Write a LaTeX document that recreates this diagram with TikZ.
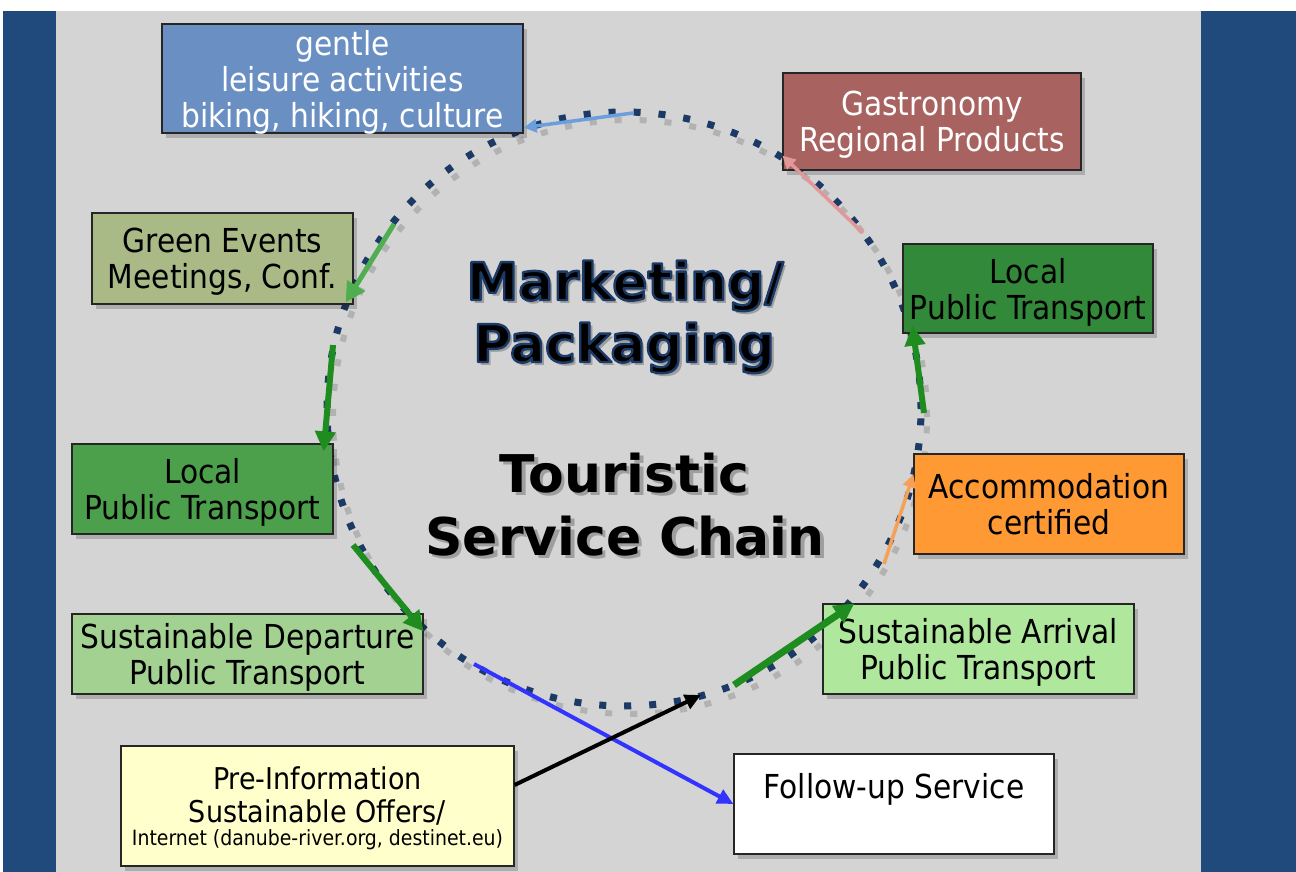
\documentclass[tikz,border=0pt]{standalone}
\usepackage{fontspec}
\setmainfont{DejaVu Sans}
\newfontfamily\boxfont{DejaVu Sans Condensed}
\usetikzlibrary{arrows.meta,shadows}
\definecolor{bandblue}{HTML}{204A7C}
\definecolor{slidegray}{HTML}{D4D4D4}
\definecolor{dotnavy}{HTML}{1B3A66}
\definecolor{titleshade}{HTML}{9E9E9E}
\definecolor{gentleblue}{HTML}{6A8FC3}
\definecolor{gastrored}{HTML}{A8625F}
\definecolor{darkgreen}{HTML}{33893A}
\definecolor{midgreen}{HTML}{4CA04C}
\definecolor{orangebox}{HTML}{FF9933}
\definecolor{arrivalgreen}{HTML}{AFE89D}
\definecolor{departgreen}{HTML}{A3D192}
\definecolor{olivebox}{HTML}{A9BA87}
\definecolor{preyellow}{HTML}{FFFFCC}
\definecolor{arrowgreen}{HTML}{1E8C1E}
\definecolor{eventgreen}{HTML}{4FAE4F}
\definecolor{lightarrow}{HTML}{6A9EDC}
\definecolor{pinkarrow}{HTML}{E29898}
\definecolor{orangearrow}{HTML}{F5A055}
\definecolor{bluearrow}{HTML}{3333FF}
\newcommand\shadedtitle[1]{\makebox[0pt][l]{\kern3.5pt\raisebox{-3.5pt}{\textcolor{titleshade}{#1}}}#1}
\newcommand\glowtitle[1]{\makebox[0pt][l]{\kern3.5pt\raisebox{-3.5pt}{\textcolor{titleshade}{#1}}}\special{pdf:code q 1 j 2 Tr 2.4 w 0.106 0.227 0.4 RG}#1\special{pdf:code Q}}
\tikzset{
	box/.style={draw=black!85, line width=1.2pt, inner sep=0pt, align=center, text depth=0pt,
		font=\boxfont\fontsize{33}{36}\selectfont,
		drop shadow={shadow xshift=4pt, shadow yshift=-5pt, fill=black, opacity=0.18}},
	flow/.style={line width=6pt, -{Triangle[length=20pt,width=20pt]}},
	thinflow/.style={line width=3.5pt, -{Triangle[length=13pt,width=13pt]}},
	headline/.style={font=\fontsize{52}{62}\selectfont\bfseries, anchor=base, inner sep=0pt},
	ring/.style={line width=7pt, dash pattern=on 7pt off 18pt}
}
\begin{document}
\begin{tikzpicture}[x=1pt, y=-1pt]
	\useasboundingbox (0,0) rectangle (1296,872);
	\fill[white] (0,0) rectangle (1296,872);
	\fill[slidegray] (55,11) rectangle (1201,872);
	\fill[bandblue] (3,11) rectangle (56,872);
	\fill[bandblue] (1201,11) rectangle (1296,872);

	\coordinate (ctr) at (624,409);
	\draw[ring, gray, opacity=0.4, line width=6pt] ([shift={(6,8)}]ctr) circle (297pt);
	\draw[ring, dotnavy] (ctr) circle (297pt);

	\node[box, fill=gentleblue, text=white, minimum width=361pt, minimum height=109pt] (gentle) at (342.5,78.5) {gentle\\leisure activities\\biking, hiking, culture};
	\node[box, fill=gastrored, text=white, minimum width=298pt, minimum height=97pt] (gastro) at (932,121.5) {Gastronomy\\Regional Products};
	\node[box, fill=darkgreen, minimum width=250pt, minimum height=89pt] (localR) at (1028,288.5) {Local\\Public Transport};
	\node[box, fill=orangebox, minimum width=270pt, minimum height=100pt] (accom) at (1049,504) {Accommodation\\certified};
	\node[box, fill=arrivalgreen, minimum width=311pt, minimum height=90pt] (arrival) at (978.5,649) {Sustainable Arrival\\Public Transport};
	\node[box, fill=white, minimum width=320pt, minimum height=100pt] (followup) at (894,804) {Follow-up Service\\\mbox{}};
	\node[box, fill=preyellow, minimum width=393pt, minimum height=120pt, text depth=-4pt, font=\boxfont\fontsize{30}{33}\selectfont] (preinfo) at (317.5,806) {Pre-Information\\Sustainable Offers/\\[-10pt]{\fontsize{21}{25}\selectfont Internet (danube-river.org, destinet.eu)}};
	\node[box, fill=departgreen, minimum width=351pt, minimum height=80pt] (depart) at (247.5,654) {Sustainable Departure\\Public Transport};
	\node[box, fill=midgreen, minimum width=261pt, minimum height=90pt] (localL) at (202.5,489) {Local\\Public Transport};
	\node[box, fill=olivebox, minimum width=261pt, minimum height=91pt] (events) at (222.5,258.5) {Green Events\\Meetings, Conf.};

	\node[headline] (marketing) at (625,300) {\glowtitle{Marketing/}};
	\node[headline] (packaging) at (624,362) {\glowtitle{Packaging}};
	\node[headline] (touristic) at (624.5,492) {\shadedtitle{Touristic}};
	\node[headline] (chain) at (625,555) {\shadedtitle{Service Chain}};

	\coordinate (sGentle) at (633,113);
	\coordinate (sEvents) at (394,224);
	\coordinate (sLocalL) at (333,345);
	\coordinate (sDepart) at (353,545);
	\coordinate (sFollow) at (474,664);
	\coordinate (ePre) at (701,695);
	\coordinate (sArrival) at (734,685);
	\coordinate (sAccom) at (884,564);
	\coordinate (sLocalR) at (924,413);
	\coordinate (sGastro) at (863,233);

	\draw[thinflow, lightarrow] (sGentle) -- ([yshift=6pt]gentle.south east);
	\draw[flow, eventgreen, line width=5pt] (sEvents) -- ([xshift=-8pt,yshift=2pt]events.south east);
	\draw[flow, arrowgreen] (sLocalL) -- ([xshift=-10pt,yshift=-8pt]localL.north east);
	\draw[flow, arrowgreen] (sDepart) -- ([yshift=-18pt]depart.north east);
	\draw[thinflow, bluearrow, line width=4pt, -{Triangle[length=16pt,width=15pt]}] (sFollow) -- (followup.west);
	\draw[thinflow, black, line width=4pt, -{Triangle[length=16pt,width=15pt]}] ([yshift=21pt]preinfo.east) -- (ePre);
	\draw[flow, arrowgreen, line width=7pt] (sArrival) -- ([xshift=32pt]arrival.north west);
	\draw[thinflow, orangearrow] (sAccom) -- ([yshift=-21pt]accom.north west);
	\draw[flow, arrowgreen] (sLocalR) -- ([xshift=10pt,yshift=8pt]localR.south west);
	\draw[thinflow, pinkarrow] (sGastro) -- ([yshift=15pt]gastro.south west);
\end{tikzpicture}
\end{document}
